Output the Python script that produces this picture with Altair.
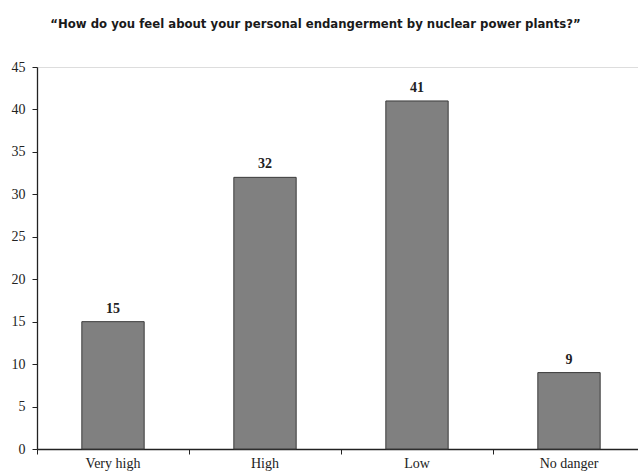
import altair as alt
import pandas as pd

# Survey answers and their shares (percent)
categories = ["Very high", "High", "Low", "No danger"]
shares = [15, 32, 41, 9]
y_ticks = [0, 5, 10, 15, 20, 25, 30, 35, 40, 45]

df = pd.DataFrame({"answer": categories, "share": shares})

serif = "Liberation Serif"

x_enc = alt.X(
    "answer:N",
    sort=categories,
    scale=alt.Scale(paddingInner=0, paddingOuter=0, range=[0, 608]),
    axis=alt.Axis(
        title=None,
        labelAngle=0,
        bandPosition=0,
        tickSize=5,
        labelPadding=2,
        labelFont=serif,
        labelFontSize=14,
        labelColor="#222222",
        domainColor="#222222",
        tickColor="#222222",
        domainWidth=1.3,
        grid=False,
    ),
)
y_enc = alt.Y(
    "share:Q",
    scale=alt.Scale(domain=[0, 45], nice=False, zero=True),
    axis=alt.Axis(
        title=None,
        values=y_ticks,
        tickSize=5,
        labelPadding=7,
        labelFont=serif,
        labelFontSize=14,
        labelColor="#222222",
        domainColor="#222222",
        tickColor="#222222",
        domainWidth=1.3,
        grid=False,
    ),
)

bars = alt.Chart(df).mark_bar(
    width=alt.RelativeBandSize(0.41),
    color="#808080",
    stroke="#3a3a3a",
    strokeWidth=1,
).encode(x=x_enc, y=y_enc)

labels = alt.Chart(df).mark_text(
    baseline="bottom",
    dy=-6,
    font=serif,
    fontSize=14,
    fontWeight="bold",
    color="#222222",
).encode(x=alt.X("answer:N", sort=categories), y="share:Q", text="share:Q")

chart = (
    alt.layer(bars, labels)
    .properties(
        width=601,
        height=382,
        autosize=alt.AutoSizeParams(type="none"),
        padding={"left": 37, "top": 67, "right": 0, "bottom": 27},
        title=alt.TitleParams(
            "\u201cHow do you feel about your personal endangerment by nuclear power plants?\u201d",
            font="DejaVu Sans Condensed, Roboto Condensed, Roboto",
            fontSize=13,
            fontWeight="bold",
            color="#1a1a1a",
            anchor="middle",
            dx=-22,
            offset=29,
        ),
    )
    .configure_view(stroke=None)
    .configure(background="white")
)

chart.save("out.html", embed_options={"renderer": "svg", "actions": False})
